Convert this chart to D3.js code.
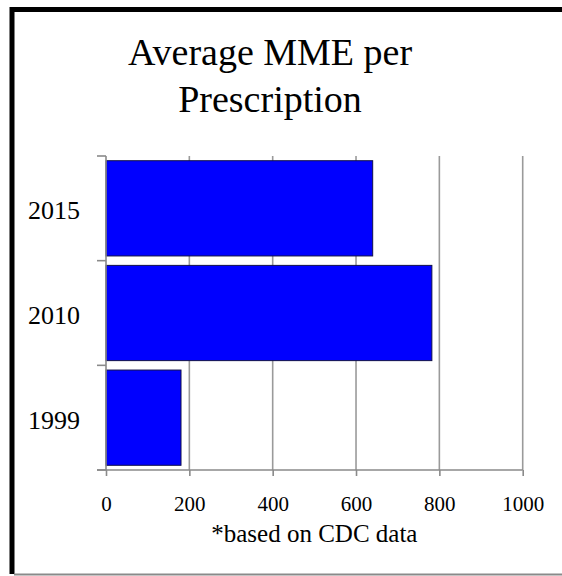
<!DOCTYPE html>
<html lang="en">
<head>
    <meta charset="UTF-8">
    <title>Average MME per Prescription</title>
    <script src="https://d3js.org/d3.v7.min.js"></script>
    <style>
        html, body { margin: 0; padding: 0; overflow: hidden; background: #fff; }
        svg { display: block; }
    </style>
</head>
<body>
    <svg id="chart" width="562" height="576"></svg>

    <script>
        // data
        const years = ["2015", "2010", "1999"];
        const mme = [640, 782, 180];
        const xTicks = [0, 200, 400, 600, 800, 1000];
        const titleLines = ["Average MME per", "Prescription"];
        const note = "*based on CDC data";

        const width = 562, height = 576;
        const margin = { top: 156, right: 39.3, bottom: 106, left: 106 };
        const serif = "'Liberation Serif', 'DejaVu Serif', serif";

        const svg = d3.select("#chart");

        svg.append("rect")
            .attr("width", width).attr("height", height)
            .attr("fill", "#fff");

        // frame: black left and top, thin grey bottom, right side cut off
        svg.append("path")
            .attr("d", `M12,574V9.5H${width}`)
            .attr("fill", "none")
            .attr("stroke", "#000")
            .attr("stroke-width", 5);
        svg.append("line")
            .attr("x1", 14).attr("x2", width)
            .attr("y1", 574.5).attr("y2", 574.5)
            .attr("stroke", "#8a8a8a")
            .attr("stroke-width", 2);

        const x = d3.scaleLinear()
            .domain([0, 1000])
            .range([margin.left, width - margin.right]);

        const y = d3.scaleBand()
            .domain(years)
            .range([margin.top, height - margin.bottom])
            .paddingInner(0.09)
            .paddingOuter(0.045);

        const yOuter = d3.scaleBand()
            .domain(years)
            .range([margin.top, height - margin.bottom]);

        // title
        svg.selectAll(".title")
            .data(titleLines)
            .join("text")
            .attr("class", "title")
            .attr("x", 270)
            .attr("y", (d, i) => 65 + i * 47)
            .attr("text-anchor", "middle")
            .attr("font-family", serif)
            .attr("font-size", 38)
            .attr("fill", "#000")
            .text(d => d);

        // vertical gridlines
        svg.append("g")
            .selectAll("line")
            .data(xTicks.filter(d => d > 0))
            .join("line")
            .attr("x1", d => x(d)).attr("x2", d => x(d))
            .attr("y1", margin.top).attr("y2", height - margin.bottom)
            .attr("stroke", "#9a9a9a")
            .attr("stroke-width", 1.6);

        // bars
        svg.append("g")
            .selectAll("rect")
            .data(years.map((d, i) => ({ year: d, value: mme[i] })))
            .join("rect")
            .attr("x", x(0))
            .attr("y", d => y(d.year))
            .attr("width", d => x(d.value) - x(0))
            .attr("height", y.bandwidth())
            .attr("fill", "#0000ff")
            .attr("stroke", "#10104a")
            .attr("stroke-width", 1);

        // x axis
        const xAxis = svg.append("g")
            .attr("transform", `translate(0,${height - margin.bottom})`)
            .attr("font-family", serif)
            .call(d3.axisBottom(x).tickValues(xTicks).tickFormat(d3.format("d"))
                .tickSize(6).tickPadding(20).tickSizeOuter(0));
        xAxis.select(".domain")
            .attr("d", `M${x(0) - 9},0H${x(1000)}`);
        xAxis.selectAll("line, path").attr("stroke", "#8a8a8a").attr("stroke-width", 1.6);
        xAxis.selectAll("text")
            .attr("font-family", serif)
            .attr("font-size", 21)
            .attr("fill", "#000");

        // y axis
        const yAxis = svg.append("g")
            .attr("transform", `translate(${margin.left},0)`)
            .attr("font-family", serif)
            .call(d3.axisLeft(yOuter).tickSize(0).tickPadding(26));
        yAxis.select(".domain")
            .attr("d", `M0,${margin.top}V${height - margin.bottom}`);
        yAxis.selectAll("line, path").attr("stroke", "#8a8a8a").attr("stroke-width", 1.6);
        yAxis.selectAll("text")
            .attr("font-family", serif)
            .attr("font-size", 26)
            .attr("dy", "0.42em")
            .attr("fill", "#000");
        // band boundary ticks
        yAxis.append("g")
            .selectAll("line")
            .data(years.map(d => yOuter(d)).concat([height - margin.bottom]))
            .join("line")
            .attr("x1", -9).attr("x2", 0)
            .attr("y1", d => d).attr("y2", d => d)
            .attr("stroke", "#8a8a8a")
            .attr("stroke-width", 1.6);

        // footnote
        svg.append("text")
            .attr("x", (x(0) + x(1000)) / 2)
            .attr("y", 542)
            .attr("text-anchor", "middle")
            .attr("font-family", serif)
            .attr("font-size", 25)
            .attr("fill", "#000")
            .text(note);
    </script>
</body>
</html>
